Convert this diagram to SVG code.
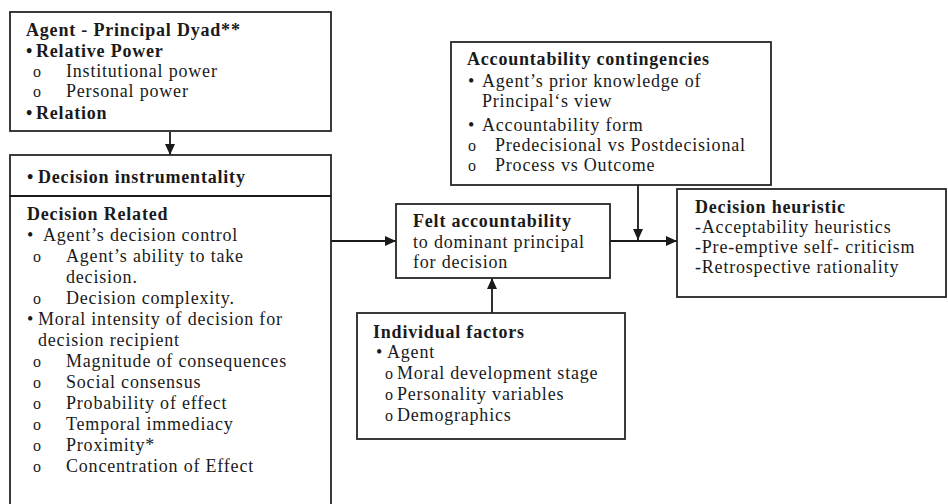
<svg xmlns="http://www.w3.org/2000/svg" width="948" height="504" viewBox="0 0 948 504">
<style>
  .box { fill: #ffffff; stroke: #262626; stroke-width: 1.8; }
  .t { font-family: "Liberation Serif", "Times New Roman", serif; font-size: 18px; letter-spacing: 0.8px; fill: #1a1a1a; }
  .b { font-weight: bold; }
  .o { font-family: "Liberation Serif", serif; font-size: 16px; fill: #1a1a1a; }
  .line { stroke: #1a1a1a; stroke-width: 1.8; fill: none; }
</style>
<defs>
  <marker id="arr" markerUnits="userSpaceOnUse" markerWidth="11" markerHeight="10" refX="11" refY="5" orient="auto">
    <path d="M0,0 L11,5 L0,10 z" fill="#1a1a1a"/>
  </marker>
</defs>
<rect x="0" y="0" width="948" height="504" fill="#ffffff"/>

<g id="connectors">
  <line class="line" x1="170" y1="132" x2="170" y2="155" marker-end="url(#arr)"/>
  <line class="line" x1="331" y1="241" x2="396" y2="241" marker-end="url(#arr)"/>
  <line class="line" x1="492" y1="313" x2="492" y2="278" marker-end="url(#arr)"/>
  <line class="line" x1="610" y1="241" x2="677" y2="241" marker-end="url(#arr)"/>
  <line class="line" x1="638" y1="185" x2="638" y2="240" marker-end="url(#arr)"/>
</g>

<g id="dyad">
  <rect class="box" x="10" y="12" width="321" height="119"/>
  <text class="t b" x="26" y="36">Agent - Principal Dyad**</text>
  <text class="t b" x="26" y="57">•</text><text class="t b" x="36" y="57">Relative Power</text>
  <text class="o" x="33" y="77">o</text><text class="t" x="66" y="77">Institutional power</text>
  <text class="o" x="33" y="97">o</text><text class="t" x="66" y="97">Personal power</text>
  <text class="t b" x="26" y="119">•</text><text class="t b" x="36" y="119">Relation</text>
</g>

<g id="decision-factors">
  <rect class="box" x="10" y="155" width="321" height="360"/>
  <line class="line" x1="10" y1="196" x2="331" y2="196"/>
  <text class="t b" x="27" y="183">•</text><text class="t b" x="38" y="183">Decision instrumentality</text>
  <text class="t b" x="27" y="220">Decision Related</text>
  <text class="t" x="27" y="241">•</text><text class="t" x="43" y="241">Agent’s decision control</text>
  <text class="o" x="33" y="262">o</text><text class="t" x="66" y="262">Agent’s ability to take</text>
  <text class="t" x="66" y="283">decision.</text>
  <text class="o" x="33" y="304">o</text><text class="t" x="66" y="304">Decision complexity.</text>
  <text class="t" x="27" y="325">•</text><text class="t" x="38" y="325">Moral intensity of decision for</text>
  <text class="t" x="38" y="346">decision recipient</text>
  <text class="o" x="33" y="367">o</text><text class="t" x="66" y="367">Magnitude of consequences</text>
  <text class="o" x="33" y="388">o</text><text class="t" x="66" y="388">Social consensus</text>
  <text class="o" x="33" y="409">o</text><text class="t" x="66" y="409">Probability of effect</text>
  <text class="o" x="33" y="430">o</text><text class="t" x="66" y="430">Temporal immediacy</text>
  <text class="o" x="33" y="451">o</text><text class="t" x="66" y="451">Proximity*</text>
  <text class="o" x="33" y="472">o</text><text class="t" x="66" y="472">Concentration of Effect</text>
</g>

<g id="accountability-contingencies">
  <rect class="box" x="451" y="42" width="320" height="143"/>
  <text class="t b" x="467" y="65">Accountability contingencies</text>
  <text class="t" x="468" y="87">•</text><text class="t" x="482" y="87">Agent’s prior knowledge of</text>
  <text class="t" x="482" y="107">Principal‘s view</text>
  <text class="t" x="468" y="131">•</text><text class="t" x="482" y="131">Accountability form</text>
  <text class="o" x="468" y="151">o</text><text class="t" x="495" y="151">Predecisional vs Postdecisional</text>
  <text class="o" x="468" y="171">o</text><text class="t" x="495" y="171">Process vs Outcome</text>
</g>

<g id="felt-accountability">
  <rect class="box" x="396" y="204" width="214" height="74"/>
  <text class="t b" x="413" y="227">Felt accountability</text>
  <text class="t" x="413" y="248">to dominant principal</text>
  <text class="t" x="413" y="268">for decision</text>
</g>

<g id="individual-factors">
  <rect class="box" x="357" y="313" width="268" height="126"/>
  <text class="t b" x="373" y="338">Individual factors</text>
  <text class="t" x="376" y="358">•</text><text class="t" x="387" y="358">Agent</text>
  <text class="o" x="385" y="379">o</text><text class="t" x="397" y="379">Moral development stage</text>
  <text class="o" x="385" y="400">o</text><text class="t" x="397" y="400">Personality variables</text>
  <text class="o" x="385" y="421">o</text><text class="t" x="397" y="421">Demographics</text>
</g>

<g id="decision-heuristic">
  <rect class="box" x="677" y="189" width="269" height="108"/>
  <text class="t b" x="695" y="213">Decision heuristic</text>
  <text class="t" x="695" y="233">-Acceptability heuristics</text>
  <text class="t" x="695" y="253">-Pre-emptive self- criticism</text>
  <text class="t" x="695" y="273">-Retrospective rationality</text>
</g>
</svg>
